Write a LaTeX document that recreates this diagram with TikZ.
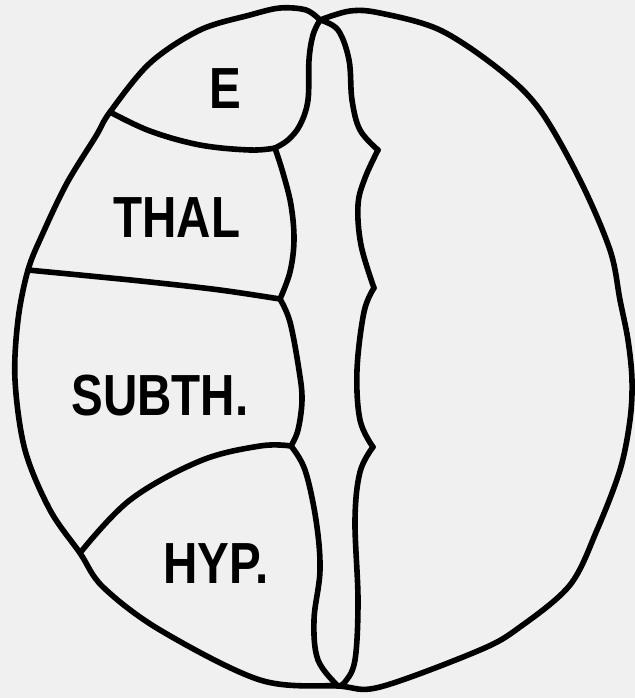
\documentclass[tikz,border=0pt]{standalone}
\usepackage{fontspec}
\newfontfamily\regionfont{Liberation Sans}
\definecolor{paper}{RGB}{240,240,240}

\begin{document}
\begin{tikzpicture}[x=0.5pt, y=-0.5pt,
    wall/.style={black, line width=2.8pt, line cap=round, line join=round},
    region/.style={anchor=base, xscale=0.82, inner sep=0pt,
                   font=\regionfont\bfseries\fontsize{29}{29}\selectfont}]
    \fill[paper] (0,0) rectangle (635,698);
    \useasboundingbox (0,0) rectangle (635,698);

    % where the walls meet
    \coordinate (top) at (320,20);
    \coordinate (bot) at (338,686);
    \coordinate (eL) at (110,112);
    \coordinate (eR) at (275,148);
    \coordinate (tL) at (28,270);
    \coordinate (tR) at (280,299);
    \coordinate (sL) at (80,553);
    \coordinate (sR) at (291,446);
    \coordinate (n1) at (378,150);
    \coordinate (n2) at (374,288);
    \coordinate (n3) at (373,447);

    % outer contour
    \draw[wall] plot[smooth, tension=0.55] coordinates {(top) (306,10) (280,8) (250,15) (200,30) (150,63) (eL)
        (96,136) (67,183) (43,233) (tL) (18,320) (15,380) (25,450) (50,510) (sL) (103,587) (160,630) (260,680) (bot)
        (380,687) (480,650) (520,627) (570,585) (597,530) (620,470) (630,420) (632,380) (628,340) (620,300)
        (610,250) (580,180) (540,110) (500,70) (440,30) (380,13) (350,11) (top)};

    % ventricle, left wall
    \draw[wall] plot[smooth, tension=0.6] coordinates {(top) (313,35) (309,60) (308,100) (300,125) (288,140) (eR)};
    \draw[wall] plot[smooth, tension=0.6] coordinates {(eR) (283,173) (291,205) (294,240) (290,272) (tR)};
    \draw[wall] plot[smooth, tension=0.6] coordinates {(tR) (290,322) (299,370) (302,400) (298,430) (sR)};
    \draw[wall] plot[smooth, tension=0.6] coordinates {(sR) (305,470) (316,520) (320,570) (314,620) (318,660) (bot)};

    % ventricle, right wall
    \draw[wall] plot[smooth, tension=0.6] coordinates {(top) (338,30) (349,60) (352,100) (360,130) (n1)};
    \draw[wall] plot[smooth, tension=0.6] coordinates {(n1) (365,178) (358,205) (361,245) (n2)};
    \draw[wall] plot[smooth, tension=0.6] coordinates {(n2) (364,312) (357,370) (360,420) (n3)};
    \draw[wall] plot[smooth, tension=0.6] coordinates {(n3) (360,472) (355,520) (358,600) (355,660) (345,682) (bot)};

    % borders between the nuclei
    \draw[wall] plot[smooth, tension=0.6] coordinates {(eL) (150,131) (200,145) (250,150) (eR)};
    \draw[wall] plot[smooth, tension=0.6] coordinates {(tL) (90,276) (150,282) (220,290) (tR)};
    \draw[wall] plot[smooth, tension=0.6] coordinates {(sL) (130,500) (200,461) (260,446) (sR)};

    \node[region] (e) at (225,108) {E};
    \node[region] (thal) at (177,237) {THAL};
    \node[region] (subth) at (160,415) {SUBTH.};
    \node[region] (hyp) at (216,583) {HYP.};
\end{tikzpicture}
\end{document}
